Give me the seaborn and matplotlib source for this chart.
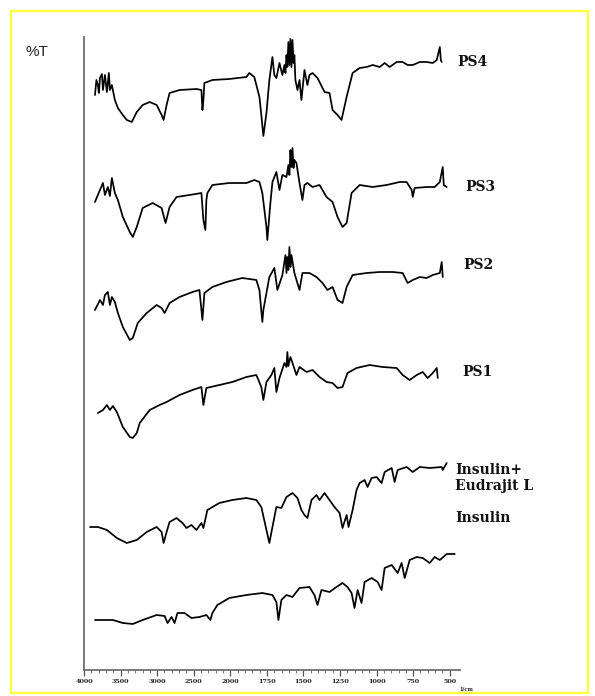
import numpy as np
import pandas as pd
import matplotlib
matplotlib.use("Agg")
import matplotlib.pyplot as plt
from matplotlib.patches import Rectangle
from matplotlib.ticker import FixedLocator, FixedFormatter
import seaborn as sns

# ---------------- data (wavenumber in cm-1, stacked %T) ----------------
ps4_w = [3850, 3830, 3810, 3796, 3782, 3755, 3741, 3714, 3687, 3660, 3646, 3619, 3578, 3537, 3469, 3415,
         3347, 3279, 3198, 3102, 3007, 2939, 2912, 2871, 2830, 2694, 2463, 2395, 2381, 2368, 2354, 2245,
         2014, 1890, 1870, 1836, 1801, 1788, 1774, 1753, 1733, 1712, 1699, 1685, 1664, 1644, 1630, 1623,
         1616, 1610, 1603, 1596, 1589, 1582, 1575, 1568, 1562, 1555, 1541, 1527, 1514, 1493, 1473, 1459,
         1438, 1404, 1356, 1322, 1301, 1267, 1240, 1205, 1164, 1116, 1068, 1027, 979, 945, 911, 863, 822,
         788, 753, 705, 658, 616, 589, 568, 561, 555]
ps4_t = [115.0, 118.0, 117.0, 115.4, 118.4, 119.2, 116.0, 119.0, 115.6, 119.4, 116.0, 117.0, 114.0, 112.4,
         111.0, 110.0, 109.6, 111.6, 113.0, 113.6, 113.0, 111.0, 110.0, 113.0, 115.4, 116.0, 116.2, 116.0,
         112.0, 114.0, 117.4, 118.0, 118.2, 118.6, 119.4, 118.6, 114.6, 111.0, 106.8, 111.4, 118.0, 122.6,
         119.0, 118.4, 121.4, 119.0, 121.0, 119.4, 123.0, 120.6, 125.6, 121.0, 126.2, 120.6, 126.0, 121.4,
         123.0, 118.0, 116.0, 118.0, 114.0, 120.0, 117.0, 119.0, 119.4, 118.4, 115.6, 115.4, 112.0, 111.0,
         110.0, 114.6, 119.4, 120.4, 120.6, 121.0, 120.6, 121.4, 120.6, 121.6, 121.6, 121.0, 121.0, 121.6,
         121.6, 121.4, 122.0, 124.6, 122.0, 121.6]

ps3_w = [3850, 3782, 3741, 3714, 3674, 3646, 3619, 3578, 3537, 3469, 3374, 3333, 3279, 3198, 3061, 2939,
         2885, 2830, 2735, 2558, 2395, 2368, 2341, 2327, 2313, 2245, 2014, 1890, 1836, 1801, 1781, 1753,
         1747, 1726, 1712, 1685, 1664, 1644, 1616, 1603, 1596, 1589, 1582, 1575, 1568, 1562, 1548, 1527,
         1507, 1493, 1473, 1438, 1390, 1342, 1301, 1267, 1233, 1205, 1171, 1116, 1027, 932, 842, 795, 760,
         753, 740, 658, 603, 568, 548, 541, 521]
ps3_t = [93.6, 96.0, 97.4, 95.0, 96.6, 94.8, 98.4, 95.4, 94.0, 90.6, 87.6, 86.6, 88.6, 92.4, 93.4, 92.4,
         89.4, 92.6, 94.6, 95.0, 95.4, 90.0, 88.0, 94.0, 95.4, 97.0, 97.4, 97.4, 98.0, 97.6, 95.4, 88.6,
         86.0, 93.4, 97.6, 99.6, 96.0, 99.0, 98.6, 101.0, 99.0, 104.0, 100.6, 104.4, 100.4, 102.0, 101.4,
         97.4, 94.0, 97.0, 97.4, 96.6, 97.0, 94.6, 93.6, 90.6, 88.6, 89.4, 95.4, 97.0, 96.6, 97.0, 97.6,
         97.6, 96.0, 94.6, 96.4, 96.6, 96.6, 97.6, 100.6, 97.0, 96.6]

ps2_w = [3850, 3782, 3741, 3714, 3674, 3646, 3619, 3578, 3537, 3469, 3374, 3333, 3265, 3143, 3007, 2939,
         2898, 2830, 2694, 2517, 2422, 2381, 2354, 2245, 2054, 1918, 1822, 1801, 1781, 1774, 1753, 1733,
         1699, 1678, 1644, 1623, 1616, 1610, 1603, 1596, 1589, 1582, 1562, 1527, 1507, 1459, 1411, 1370,
         1336, 1301, 1267, 1233, 1205, 1164, 1068, 979, 890, 822, 788, 753, 705, 658, 616, 568, 555, 548]
ps2_t = [72.0, 74.0, 73.0, 75.0, 75.6, 73.0, 74.6, 73.6, 71.4, 68.6, 66.0, 66.4, 69.4, 71.4, 73.0, 72.4,
         71.4, 73.4, 74.6, 75.6, 76.0, 70.0, 75.4, 76.6, 77.6, 78.4, 78.0, 76.0, 69.6, 72.0, 75.4, 78.6,
         80.4, 76.0, 79.0, 83.0, 79.4, 82.6, 80.0, 84.6, 80.6, 83.0, 79.4, 76.0, 79.4, 79.4, 78.6, 77.4,
         76.0, 76.6, 74.0, 73.4, 76.6, 79.0, 79.4, 79.6, 79.6, 79.4, 77.4, 78.0, 78.6, 78.4, 79.0, 79.4,
         81.6, 78.6]

ps1_w = [3810, 3741, 3687, 3646, 3605, 3551, 3469, 3374, 3333, 3279, 3238, 3102, 2966, 2871, 2694, 2517,
         2395, 2368, 2327, 2150, 1986, 1890, 1822, 1788, 1774, 1753, 1719, 1699, 1685, 1664, 1630, 1616,
         1610, 1603, 1589, 1575, 1548, 1527, 1479, 1438, 1390, 1342, 1301, 1267, 1233, 1199, 1137, 1048,
         959, 863, 822, 774, 726, 685, 651, 616, 589, 582]
ps1_t = [51.4, 52.0, 53.0, 52.0, 52.8, 51.6, 48.6, 46.6, 46.4, 47.4, 49.4, 52.0, 53.0, 53.6, 55.0, 56.0,
         56.6, 53.0, 56.4, 57.0, 57.6, 58.6, 59.0, 56.6, 54.0, 57.6, 59.0, 60.4, 55.6, 58.4, 61.4, 60.6,
         63.6, 60.8, 62.6, 61.4, 59.0, 60.6, 59.6, 60.0, 58.6, 57.6, 57.4, 56.4, 56.6, 59.4, 60.4, 61.0,
         60.6, 60.4, 59.0, 58.0, 59.0, 59.6, 58.4, 59.4, 60.4, 58.4]

ie_w = [3918, 3810, 3687, 3551, 3415, 3279, 3143, 3007, 2939, 2912, 2871, 2830, 2735, 2654, 2599, 2531,
        2463, 2395, 2368, 2313, 2150, 1986, 1890, 1822, 1788, 1753, 1733, 1712, 1685, 1651, 1616, 1575,
        1541, 1514, 1493, 1473, 1445, 1411, 1390, 1356, 1322, 1288, 1253, 1233, 1205, 1192, 1164, 1137,
        1116, 1082, 1062, 1034, 1000, 966, 945, 897, 877, 856, 795, 753, 705, 637, 555, 548, 521]
ie_t = [28.6, 28.6, 28.0, 26.4, 25.4, 26.0, 27.6, 28.6, 27.6, 25.4, 27.6, 29.6, 30.4, 29.4, 28.4, 29.0,
        28.0, 29.4, 28.4, 32.0, 33.4, 34.0, 34.4, 34.0, 32.6, 28.0, 25.4, 28.6, 32.6, 32.4, 34.6, 35.4,
        34.4, 32.0, 31.0, 30.4, 34.0, 35.0, 34.0, 35.4, 34.0, 32.6, 31.4, 28.4, 31.0, 28.6, 32.0, 36.0,
        37.4, 38.0, 36.6, 38.4, 38.6, 37.4, 39.6, 40.4, 37.6, 40.0, 40.6, 39.6, 40.6, 40.4, 40.6, 40.0,
        41.4]

ins_w = [3850, 3605, 3469, 3333, 3198, 3007, 2898, 2858, 2803, 2762, 2722, 2626, 2531, 2422, 2327, 2273,
         2245, 2177, 2014, 1890, 1781, 1712, 1685, 1671, 1651, 1616, 1575, 1527, 1459, 1425, 1404, 1377,
         1322, 1274, 1233, 1199, 1171, 1151, 1130, 1103, 1082, 1034, 993, 966, 945, 897, 856, 829, 808,
         774, 726, 685, 637, 603, 568, 521, 466]
ins_t = [10.0, 10.0, 9.4, 9.2, 10.0, 11.0, 10.8, 9.4, 10.6, 9.4, 11.4, 11.4, 10.4, 10.6, 11.0, 10.0,
         11.4, 13.0, 14.4, 15.0, 15.4, 15.0, 13.6, 10.0, 14.0, 15.0, 14.6, 16.4, 16.6, 15.0, 13.0, 16.0,
         15.6, 16.6, 17.4, 16.6, 15.4, 12.4, 16.0, 13.4, 17.6, 18.4, 17.6, 16.0, 20.4, 21.0, 19.4, 21.4,
         18.4, 22.0, 22.6, 22.4, 21.4, 22.6, 22.0, 23.2, 23.2]

series_names = ["PS4", "PS3", "PS2", "PS1", "Insulin+\nEudrajit L", "Insulin"]
tick_values = [4000, 3500, 3000, 2500, 2000, 1750, 1500, 1250, 1000, 750, 500]
tick_labels = ["4000", "3500", "3000", "2500", "2000", "1750", "1500", "1250", "1000", "750", "500"]

spectra = [(ps4_w, ps4_t), (ps3_w, ps3_t), (ps2_w, ps2_t), (ps1_w, ps1_t), (ie_w, ie_t), (ins_w, ins_t)]

# ---------------- figure ----------------
sns.set_theme(style="white")
plt.rcParams["font.family"] = ["DejaVu Sans"]

W, H = 595, 696
fig = plt.figure(figsize=(W / 100, H / 100), dpi=100)
fig.patch.set_facecolor("white")
ax = fig.add_axes([84 / W, (H - 670) / H, 376 / W, 633 / H])
ax.set_facecolor("white")

for (w, t), name in zip(spectra, series_names):
    df = pd.DataFrame({"wavenumber": w, "T": t})
    sns.lineplot(data=df, x="wavenumber", y="T", sort=False, estimator=None,
                 color="black", linewidth=1.25, ax=ax)


# FTIR style axis: 500 cm-1 per division above 2000, 250 cm-1 per division below
def fwd(w):
    w = np.asarray(w, dtype=float)
    return np.where(w >= 2000, (w - 4000) / 500.0, -4 - (2000 - w) / 250.0)


def inv(v):
    v = np.asarray(v, dtype=float)
    return np.where(v >= -4, 4000 + 500.0 * v, 2000 + 250.0 * (v + 4))


ax.set_xscale("function", functions=(fwd, inv))
ax.set_xlim(4000, 430)
ax.set_ylim(0, 126.6)

minor = [v for v in range(3900, 2000, -100) if v not in tick_values] + \
        [v for v in range(1950, 450, -50) if v not in tick_values]
ax.xaxis.set_major_locator(FixedLocator(tick_values))
ax.xaxis.set_major_formatter(FixedFormatter(tick_labels))
ax.xaxis.set_minor_locator(FixedLocator(minor))
ax.xaxis.set_minor_formatter(FixedFormatter([""] * len(minor)))
ax.set_yticks([])
ax.set_xlabel("")
ax.set_ylabel("")

for s in ["top", "right"]:
    ax.spines[s].set_visible(False)
for s in ["left", "bottom"]:
    ax.spines[s].set_color("#6e6e6e")
    ax.spines[s].set_linewidth(1.3)

ax.tick_params(axis="x", which="major", direction="out", length=4, width=0.9, color="#555555",
               labelsize=4.6, pad=2.5, bottom=True)
ax.tick_params(axis="x", which="minor", direction="out", length=2, width=0.7, color="#777777", bottom=True)
for lab in ax.get_xticklabels():
    lab.set_fontweight("bold")
    lab.set_family("DejaVu Serif")
    lab.set_color("#222222")

# unit label
fig.text(459 / W, 1 - 689 / H, "1/cm", fontsize=3.6, fontweight="bold", family="DejaVu Serif",
         color="#222222", ha="left", va="center")

# %T label
fig.text(25 / W, 1 - 52 / H, "%T", fontsize=11, family="Liberation Sans", color="#222222",
         ha="left", va="center")

# series labels
label_pos = [(457, 62), (465, 187), (463, 265), (462, 372), (455, 478), (455, 518)]
for name, (px, py) in zip(series_names, label_pos):
    fig.text(px / W, 1 - py / H, name, fontsize=10, fontweight="bold", family="DejaVu Serif",
             color="#111111", ha="left", va="center", linespacing=1.25)

# yellow frame
fig.patches.append(Rectangle((11 / W, 1 - 693 / H), 577 / W, 682 / H, transform=fig.transFigure,
                             fill=False, edgecolor="#ffff33", linewidth=1.6, zorder=10))

fig.savefig("out.png", dpi=100, facecolor="white")
